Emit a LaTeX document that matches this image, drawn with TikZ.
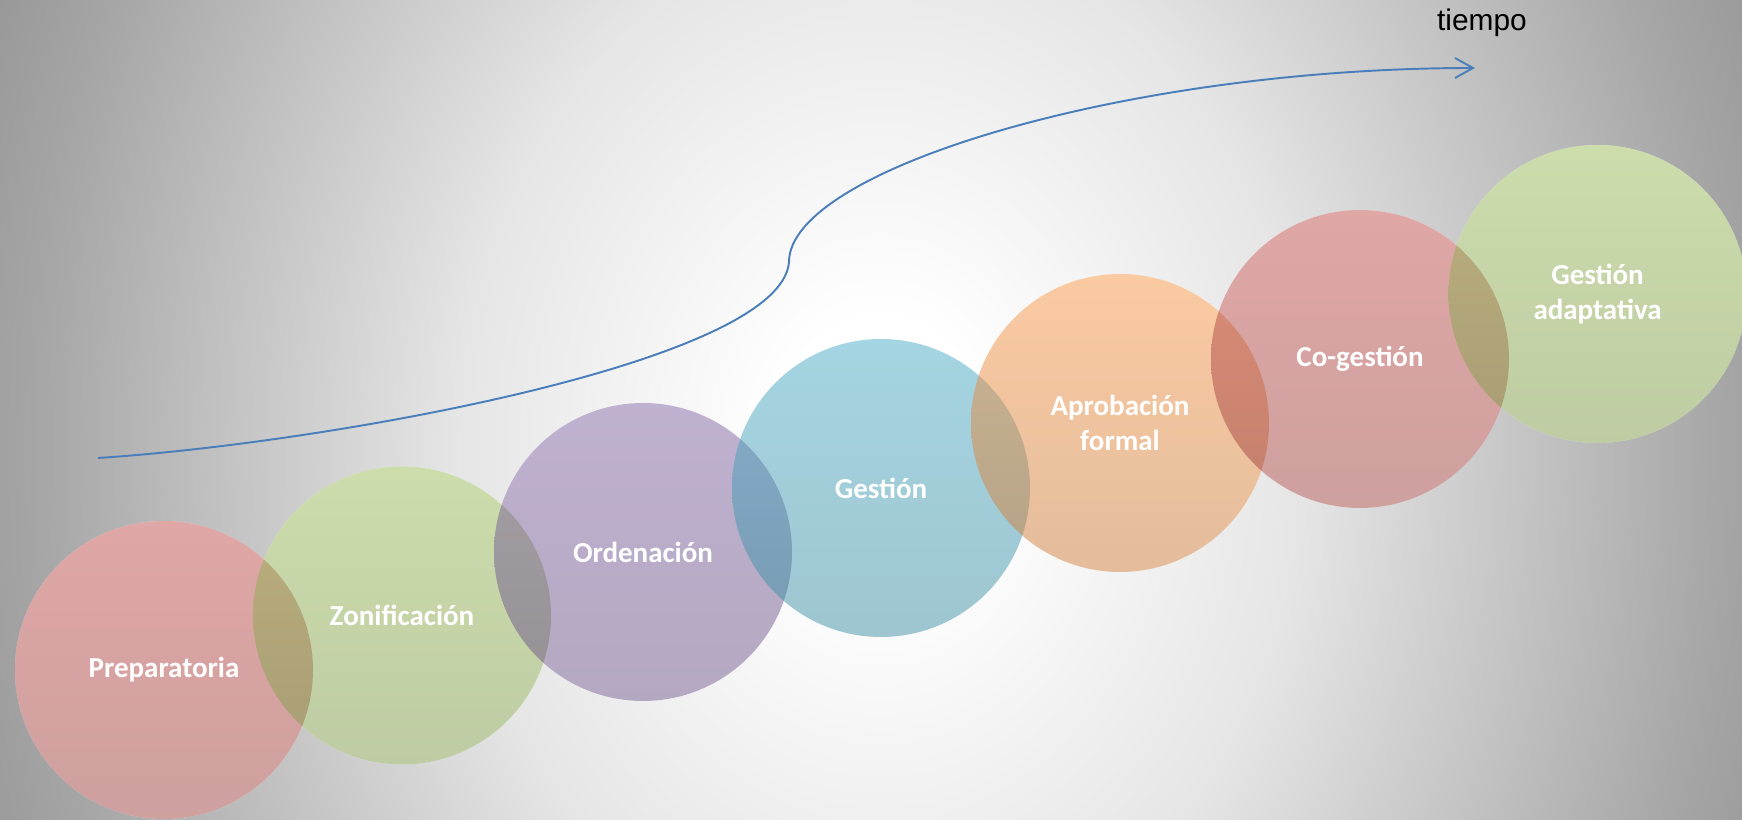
\documentclass[tikz,border=0pt]{standalone}
\usepackage{fontspec}
\newfontfamily\stagefont{Carlito}
\newfontfamily\timefont{Liberation Sans}
\usetikzlibrary{arrows.meta,positioning,calc,backgrounds}
\definecolor{stagered}{HTML}{C0504D}
\definecolor{stagegreen}{HTML}{9BBB59}
\definecolor{stagepurple}{HTML}{8064A2}
\definecolor{stageaqua}{HTML}{4BACC6}
\definecolor{stageorange}{HTML}{F79646}
\definecolor{timeblue}{HTML}{4A7EBB}
\pgfdeclareradialshading{glow}{\pgfpoint{0bp}{0bp}}{color(0bp)=(white); color(3bp)=(white); color(12bp)=(black!10); color(24bp)=(black!35); color(27bp)=(black!40); color(60bp)=(black!45)}

\begin{document}
\begin{tikzpicture}[
 stage/.style={circle,minimum size=5.96cm,inner sep=0pt,fill opacity=0.5,text opacity=1,text=white,align=center,
  top color=#1,bottom color=#1!82!black,font=\stagefont\bfseries\fontsize{16.5}{19.5}\selectfont},
 timeline/.style={draw=timeblue,line width=1.1pt,-{Straight Barb[length=3.6mm,width=4mm]}},
 timelabel/.style={font=\timefont\fontsize{17}{20}\selectfont,inner sep=0pt}]
\useasboundingbox (0,0) rectangle (34.84,16.4);
\node[stage=stagered] (prep) at (3.28,3.00) {Preparatoria};
\node[stage=stagegreen] (zon) at (8.04,4.09) {Zonificación};
\node[stage=stagepurple] (ord) at (12.86,5.36) {Ordenación};
\node[stage=stageaqua] (ges) at (17.62,6.64) {Gestión};
\node[stage=stageorange] (apr) at (22.40,7.94) {Aprobación\\formal};
\node[stage=stagered] (cog) at (27.20,9.22) {Co-gestión};
\node[stage=stagegreen] (ada) at (31.95,10.52) {Gestión\\adaptativa};
\begin{scope}[on background layer]
\clip (0,0) rectangle (34.84,16.4);
\shade[shading=glow] (0,-14.6) rectangle (35.2,29.4);
\foreach \n in {prep,zon,ord,ges,apr,cog,ada}
 \fill[white] (\n.center) circle (2.98);
\end{scope}
\coordinate (t0) at (1.96,7.24);
\coordinate (t1) at (15.78,11.16);
\coordinate (t2) at (29.50,15.04);
\draw[timeline] (t0) .. controls +(4.6,0.3) and +(-0.15,-2.0) .. (t1)
 .. controls +(0,1.84) and +(-7,0) .. (t2);
\node[timelabel,anchor=base] (tiempo) at (29.64,15.78) {tiempo};
\end{tikzpicture}
\end{document}
